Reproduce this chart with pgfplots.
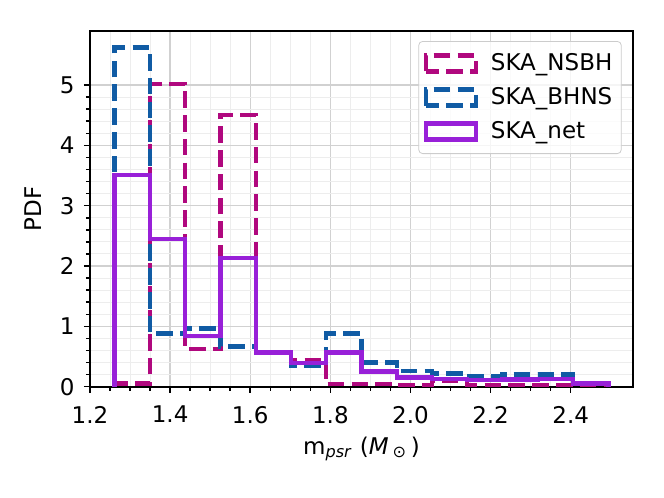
\documentclass[border=0pt]{standalone}
\usepackage{fontspec}
\setmainfont{DejaVu Sans}
\usepackage{pgfplots}
\pgfplotsset{compat=1.18}
\definecolor{cnsbh}{HTML}{B0087E}
\definecolor{cbhns}{HTML}{105BA4}
\definecolor{cnet}{HTML}{9820D8}
\begin{document}
\begin{tikzpicture}
\begin{axis}[
  scale only axis,
  width=271.5pt, height=178pt,
  xmin=1.2, xmax=2.5555, ymin=0, ymax=5.9,
  xtick={1.2,1.4,...,2.41}, ytick={0,1,2,3,4,5},
  minor x tick num=3, minor y tick num=4,
  xticklabel style={/pgf/number format/fixed, /pgf/number format/fixed zerofill, /pgf/number format/precision=1},
  /pgf/number format/assume math mode=true,
  tick label style={font=\fontsize{11.5}{13.5}\selectfont},
  xticklabel style={inner sep=0pt, anchor=north, yshift=-6.5pt},
  yticklabel style={inner sep=0pt, anchor=east, xshift=-4.5pt},
  tick align=outside, xtick pos=bottom, ytick pos=left,
  major tick length=3pt, minor tick length=2pt,
  every tick/.style={black, line width=0.75pt},
  axis line style={line width=0.9pt},
  grid=both,
  major grid style={color=black!18, line width=0.7pt},
  minor grid style={color=black!7, line width=0.5pt},
  every axis x label/.style={at={(axis description cs:0.5,-0.175)}, anchor=center},
  every axis y label/.style={at={(axis description cs:-0.105,0.5)}, rotate=90, anchor=center},
  label style={font=\fontsize{11.5}{13.5}\selectfont},
  xlabel={m\textsubscript{\textit{psr}} (\textit{M}\,\textsubscript{⊙}\,)},
  ylabel={PDF},
  legend style={at={(1,1)}, anchor=north east, xshift=-5.65pt, yshift=-5.15pt,
    draw=black!20, rounded corners=2pt, fill=white, fill opacity=0.8, text opacity=1,
    draw opacity=1,
    font=\fontsize{11.5}{13.5}\selectfont, inner xsep=2.5pt, inner ysep=4pt, row sep=3pt},
  legend cell align=left,
  legend image code/.code={\draw[#1, sharp corners, fill opacity=1] (0pt,-4pt) rectangle (25pt,4pt);
    \path[draw=none, fill=none] (0pt,0pt) -- (30.5pt,0pt);},
  every axis plot/.append style={line width=2.2pt, const plot},
]
\addplot[cnsbh, dash pattern=on 8.3pt off 3.6pt] coordinates {
(1.2616,0) (1.2616,0.05) (1.3496,5.02) (1.4376,0.62) (1.5257,4.505) (1.6137,0.567)
(1.7017,0.445) (1.7897,0.04) (1.8777,0.04) (1.9658,0.03) (2.0538,0.10) (2.1418,0.02)
(2.2298,0.02) (2.3178,0.02) (2.4059,0.02) (2.4939,0.02) (2.4939,0)};
\addlegendentry{SKA\_NSBH}
\addplot[cbhns, dash pattern=on 8.3pt off 3.6pt] coordinates {
(1.2616,0) (1.2616,5.62) (1.3496,0.885) (1.4376,0.965) (1.5257,0.663) (1.6137,0.567)
(1.7017,0.345) (1.7897,0.885) (1.8777,0.40) (1.9658,0.26) (2.0538,0.22) (2.1418,0.18)
(2.2298,0.20) (2.3178,0.20) (2.4059,0.065) (2.4939,0.065) (2.4939,0)};
\addlegendentry{SKA\_BHNS}
\addplot[cnet] coordinates {
(1.2616,0) (1.2616,3.51) (1.3496,2.444) (1.4376,0.84) (1.5257,2.13) (1.6137,0.567)
(1.7017,0.39) (1.7897,0.567) (1.8777,0.25) (1.9658,0.155) (2.0538,0.125) (2.1418,0.11)
(2.2298,0.12) (2.3178,0.13) (2.4059,0.05) (2.4939,0.05) (2.4939,0)};
\addlegendentry{SKA\_net}
\end{axis}
\pgfresetboundingbox
\useasboundingbox (-45pt,-55.65pt) rectangle (287pt,193.35pt);
\end{tikzpicture}
\end{document}
